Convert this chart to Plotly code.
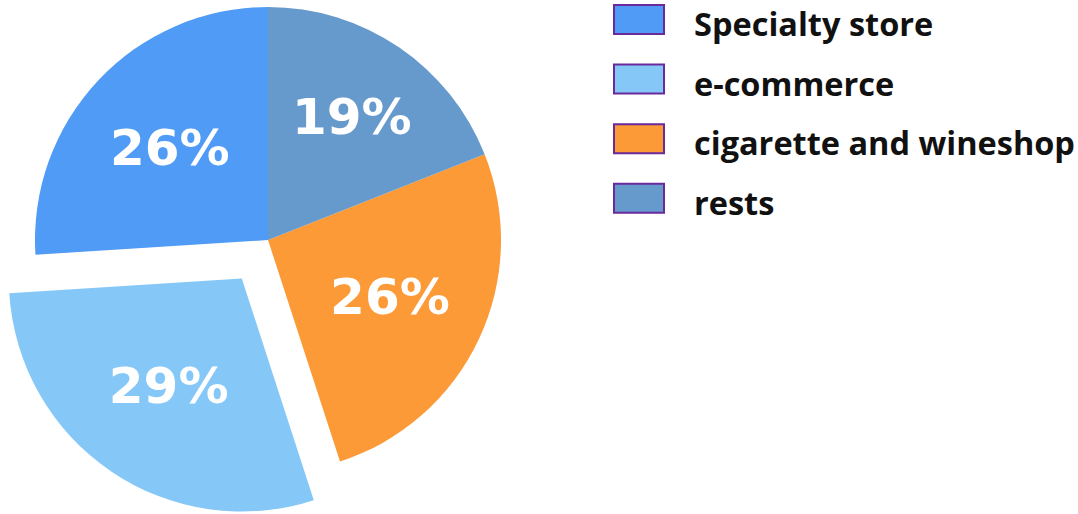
import math
import plotly.graph_objects as go

# Sales channel shares (percent)
channels = ["Specialty store", "e-commerce", "cigarette and wineshop", "rests"]
shares = [26, 29, 26, 19]
slice_colors = ["#4f9bf5", "#85c8f7", "#fb9a37", "#6699cc"]
exploded = "e-commerce"
pull_frac = 0.2

W, H = 1078, 514
cx, cy, r = 268, 240, 233  # pie centre and radius in pixels

total = sum(shares)
# First slice starts at 12 o'clock and slices run counterclockwise
rotation = -360 * shares[0] / total

# Direction of the exploded wedge: its bisector, measured counterclockwise from +x
k = channels.index(exploded)
mid = math.radians(90 + 360 * (sum(shares[:k]) + shares[k] / 2) / total)
ox = pull_frac * r * math.cos(mid)
oy = -pull_frac * r * math.sin(mid)


def domain(px, py):
    return dict(x=[(px - r) / W, (px + r) / W], y=[1 - (py + r) / H, 1 - (py - r) / H])


clear = "rgba(0,0,0,0)"
base_fill = [clear if c == exploded else col for c, col in zip(channels, slice_colors)]
base_tmpl = ["" if c == exploded else "%{percent}" for c in channels]
pull_fill = [col if c == exploded else clear for c, col in zip(channels, slice_colors)]
pull_tmpl = ["%{percent}" if c == exploded else "" for c in channels]

common = dict(
    labels=channels,
    values=shares,
    sort=False,
    direction="counterclockwise",
    rotation=rotation,
    textposition="inside",
    insidetextorientation="horizontal",
    textfont=dict(family="DejaVu Sans", size=50, color="white", weight="bold"),
    hoverinfo="label+percent",
    showlegend=False,
)

fig = go.Figure()
fig.add_trace(go.Pie(
    domain=domain(cx, cy),
    marker=dict(colors=base_fill, line=dict(width=0)),
    texttemplate=base_tmpl,
    **common,
))
fig.add_trace(go.Pie(
    domain=domain(cx + ox, cy + oy),
    marker=dict(colors=pull_fill, line=dict(width=0)),
    texttemplate=pull_tmpl,
    **common,
))

# Legend: swatches with purple outlines and bold labels
box_x0, box_x1 = 614, 664
box_h = 29
row0, row_gap = 19.5, 59.6
label_x = 692
shapes, annotations = [], []
for i, (name, col) in enumerate(zip(channels, slice_colors)):
    yc = row0 + row_gap * i
    shapes.append(dict(
        type="rect", xref="paper", yref="paper",
        x0=box_x0 / W, x1=box_x1 / W,
        y0=1 - (yc + box_h / 2) / H, y1=1 - (yc - box_h / 2) / H,
        fillcolor=col, line=dict(color="#6a2a9c", width=2),
    ))
    annotations.append(dict(
        xref="paper", yref="paper", x=label_x / W, y=1 - (yc + 4) / H,
        xanchor="left", yanchor="middle", showarrow=False,
        text=name,
        font=dict(family="Open Sans", size=32.5, color="#111111", weight="bold"),
    ))

fig.update_layout(
    width=W, height=H,
    margin=dict(l=0, r=0, t=0, b=0),
    paper_bgcolor="white",
    plot_bgcolor="white",
    shapes=shapes,
    annotations=annotations,
)

fig.write_html("out.html")
